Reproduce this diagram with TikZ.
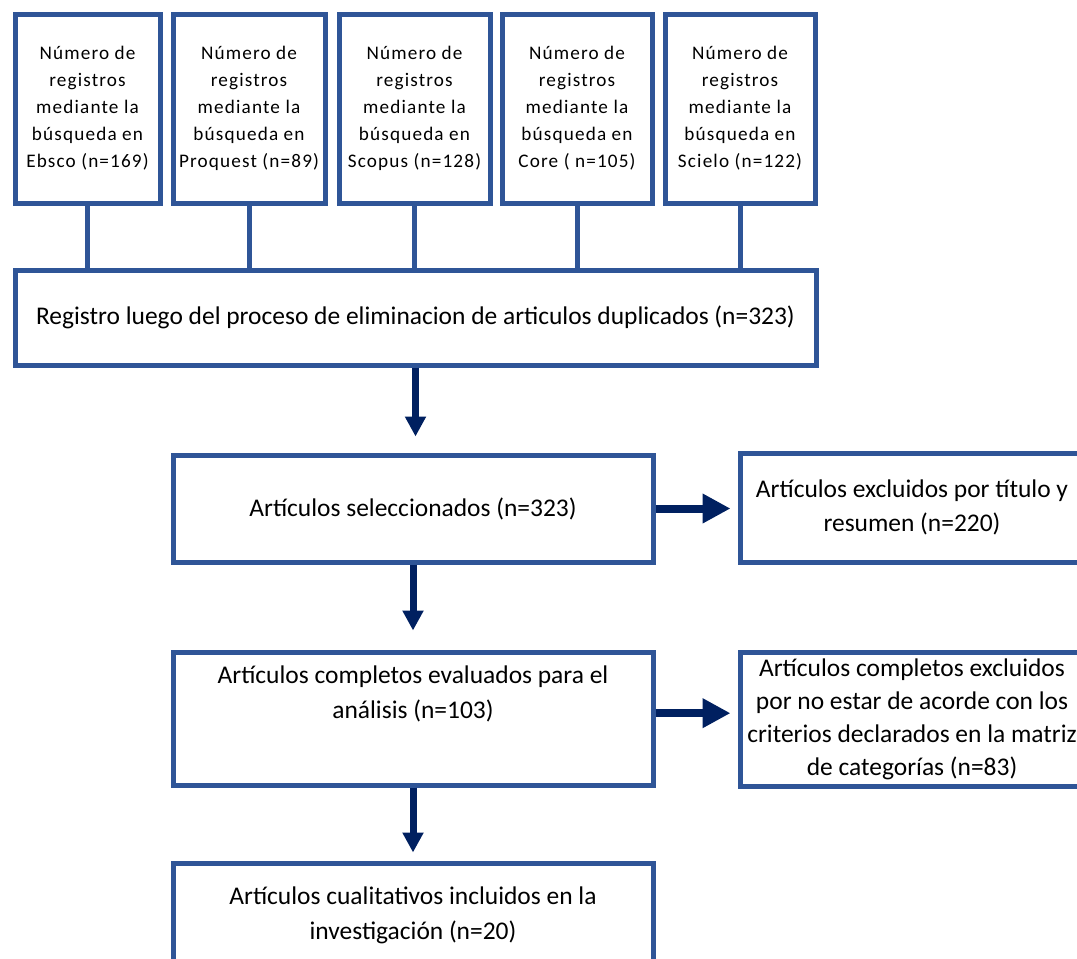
\documentclass[tikz,border=0pt]{standalone}
\usepackage{fontspec}
\setmainfont{Carlito}
\newfontfamily\spacedfont[LetterSpace=6]{Carlito}
\usetikzlibrary{arrows.meta}
\definecolor{boxblue}{HTML}{2F5597}
\definecolor{navy}{HTML}{002060}

\begin{document}
\begin{tikzpicture}[x=0.75pt,y=-0.75pt,
  box/.style={draw=boxblue,line width=3.75pt,fill=white,rectangle,inner sep=0pt,align=center,font=\fontsize{19.1}{26}\selectfont},
  source/.style={box,minimum height=141.75pt,font=\spacedfont\fontsize{14.4}{20.25}\selectfont},
  link/.style={draw=boxblue,line width=3.75pt},
  down/.style={draw=navy,line width=5.25pt,-{Triangle[length=15pt,width=15pt]}},
  side/.style={draw=navy,line width=6pt,-{Triangle[length=21pt,width=21pt]}}]
\clip (0,0) rectangle (1077,958);
%sources
\node[source,minimum width=108.75pt] (ebsco) at (87.5,108.5) {N\'umero de\\registros\\mediante la\\b\'usqueda en\\Ebsco (n=169)};
\node[source,minimum width=114pt] (proquest) at (249,108.5) {N\'umero de\\registros\\mediante la\\b\'usqueda en\\Proquest (n=89)};
\node[source,minimum width=113.25pt] (scopus) at (414.5,108.5) {N\'umero de\\registros\\mediante la\\b\'usqueda en\\Scopus  (n=128)};
\node[source,minimum width=112.5pt] (core) at (577,108.5) {N\'umero de\\registros\\mediante la\\b\'usqueda en\\Core ( n=105)};
\node[source,minimum width=112.5pt] (scielo) at (740,108.5) {N\'umero de\\registros\\mediante la\\b\'usqueda en\\Scielo (n=122)};
%duplicates
\node[box,minimum width=600.75pt,minimum height=71.25pt] (dup) at (415.5,317.5) {Registro luego del proceso de eliminacion de articulos duplicados (n=323)};
\foreach \s in {ebsco,proquest,scopus,core,scielo}
  \draw[link] (\s.south) -- (\s.south |- dup.north);
%screening
\node[box,minimum width=360pt,minimum height=80.25pt] (sel) at (413,508.5) {Art\'iculos seleccionados (n=323)};
\node[box,minimum width=258pt,minimum height=81.75pt] (excl1) at (912,507.5) {Art\'iculos excluidos por t\'itulo y\\resumen (n=220)};
%eligibility
\node[box,minimum width=360pt,minimum height=99.75pt] (eval) at (413,718.5) {};
\node[align=center,font=\fontsize{19.1}{26}\selectfont] (evaltxt) at (413,694) {Art\'iculos completos evaluados para el\\an\'alisis (n=103)};
\node[box,minimum width=258pt,minimum height=100.5pt,font=\fontsize{19.1}{24.75}\selectfont] (excl2) at (912,719) {Art\'iculos completos excluidos\\por no estar de acorde con los\\criterios declarados en la matriz\\de categor\'ias (n=83)};
%included
\node[box,minimum width=360pt,minimum height=78pt] (final) at (413,915) {Art\'iculos cualitativos incluidos en la\\investigaci\'on (n=20)};
%arrows
\draw[down,shorten >=12pt] (dup.south) -- (dup.south |- sel.north);
\draw[down,shorten >=14.25pt] (sel.south) -- (eval.north);
\draw[down,shorten >=6pt] (eval.south) -- (final.north);
\draw[side,shorten >=5.25pt] (sel.east) -- (sel.east -| excl1.west);
\draw[side,shorten >=5.25pt] ([yshift=4pt]eval.east) -- ([yshift=4pt]eval.east -| excl2.west);
\end{tikzpicture}
\end{document}
